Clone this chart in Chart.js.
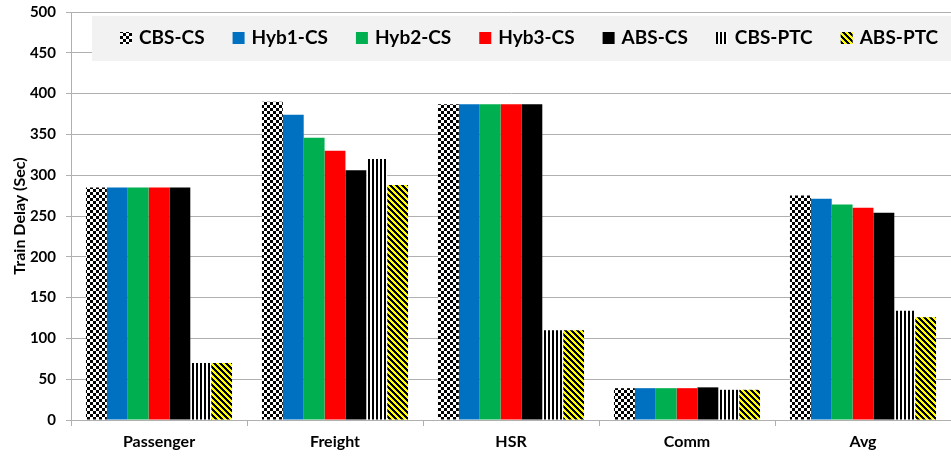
<!DOCTYPE html>
<html>
<head>
<meta charset="utf-8">
<script src="https://cdn.jsdelivr.net/npm/chart.js@4.4.1/dist/chart.umd.min.js"></script>
<style>
  html, body { margin: 0; padding: 0; background: #fff; }
  #box { width: 951px; height: 456px; }
</style>
</head>
<body>
<div id="box"><canvas id="delayChart"></canvas></div>
<script>
// Дані графіка
var categories = ['Passenger', 'Freight', 'HSR', 'Comm', 'Avg'];
var seriesNames = ['CBS-CS', 'Hyb1-CS', 'Hyb2-CS', 'Hyb3-CS', 'ABS-CS', 'CBS-PTC', 'ABS-PTC'];
var cbsCs  = [285, 390, 387, 39, 275];
var hyb1Cs = [285, 374, 387, 39, 271];
var hyb2Cs = [285, 346, 387, 39, 264];
var hyb3Cs = [285, 330, 387, 39, 260];
var absCs  = [285, 306, 387, 40, 254];
var cbsPtc = [70, 320, 110, 37, 134];
var absPtc = [70, 288, 110, 37, 126];
var yMin = 0, yMax = 500, yStep = 50;

// Візерунки для заливки стовпців
function makeTile(size, colorAt) {
  var c = document.createElement('canvas');
  c.width = size; c.height = size;
  var cx = c.getContext('2d');
  for (var x = 0; x < size; x++) {
    for (var y = 0; y < size; y++) {
      cx.fillStyle = colorAt(x, y);
      cx.fillRect(x, y, 1, 1);
    }
  }
  return document.createElement('canvas').getContext('2d').createPattern(c, 'repeat');
}

var checker = makeTile(6, function(x, y) {
  return ((Math.floor(x / 3) + Math.floor(y / 3)) % 2 === 0) ? '#000000' : '#ffffff';
});
var vStripes = makeTile(4, function(x, y) {
  return x < 2 ? '#000000' : '#ffffff';
});
var diagStripes = makeTile(6, function(x, y) {
  return ((x - y + 6) % 6) < 3 ? '#000000' : '#ffff00';
});

var fills = [checker, '#0070c0', '#00b050', '#ff0000', '#000000', vStripes, diagStripes];
var values = [cbsCs, hyb1Cs, hyb2Cs, hyb3Cs, absCs, cbsPtc, absPtc];

var datasets = seriesNames.map(function(name, i) {
  return {
    label: name,
    data: values[i],
    backgroundColor: fills[i],
    borderWidth: 0
  };
});

// Легенда в сірій рамці всередині області графіка
var boxLegend = {
  id: 'boxLegend',
  afterDraw: function(chart) {
    var ctx = chart.ctx;
    var area = chart.chartArea;
    ctx.save();
    ctx.fillStyle = '#f2f2f2';
    ctx.fillRect(area.left + 21, area.top + 4, area.right - area.left - 21, 45);
    ctx.font = 'bold 19px Lato';
    ctx.textBaseline = 'middle';
    var x = 120, y = area.top + 26;
    chart.data.datasets.forEach(function(ds) {
      ctx.fillStyle = ds.backgroundColor;
      ctx.fillRect(x, y - 6, 12, 12);
      ctx.fillStyle = '#000';
      ctx.fillText(ds.label, x + 19, y);
      x += 19 + ctx.measureText(ds.label).width + 28;
    });
    ctx.restore();
  }
};

var ctx = document.getElementById('delayChart').getContext('2d');

var delayChart = new Chart(ctx, {
  type: 'bar',
  data: { labels: categories, datasets: datasets },
  options: {
    responsive: true,
    maintainAspectRatio: false,
    animation: false,
    layout: { padding: { top: 12, right: 0, bottom: 0, left: 0 } },
    datasets: { bar: { categoryPercentage: 0.83, barPercentage: 1.0 } },
    plugins: {
      legend: { display: false },
      tooltip: { enabled: false }
    },
    scales: {
      x: {
        offset: true,
        grid: { display: true, drawOnChartArea: false, tickLength: 6, color: '#b0b0b0', offset: true },
        border: { color: '#b0b0b0' },
        ticks: { color: '#000', font: { family: 'Lato', size: 16, weight: 'bold' }, padding: 6 },
        afterFit: function(scale) { scale.height = 36; }
      },
      y: {
        min: yMin,
        max: yMax,
        grid: { color: '#b0b0b0', tickLength: 5 },
        border: { color: '#b0b0b0' },
        ticks: { stepSize: yStep, color: '#000', font: { family: 'Lato', size: 15, weight: 'bold' }, padding: 10 },
        title: {
          display: true,
          text: 'Train Delay (Sec)',
          color: '#000',
          font: { family: 'Lato', size: 16, weight: 'bold' },
          padding: { top: 10, bottom: 0 }
        },
        afterFit: function(scale) {
          scale.width = 71;
          scale.paddingTop = 0;
          scale.paddingBottom = 0;
        }
      }
    }
  },
  plugins: [boxLegend]
});
</script>
</body>
</html>
